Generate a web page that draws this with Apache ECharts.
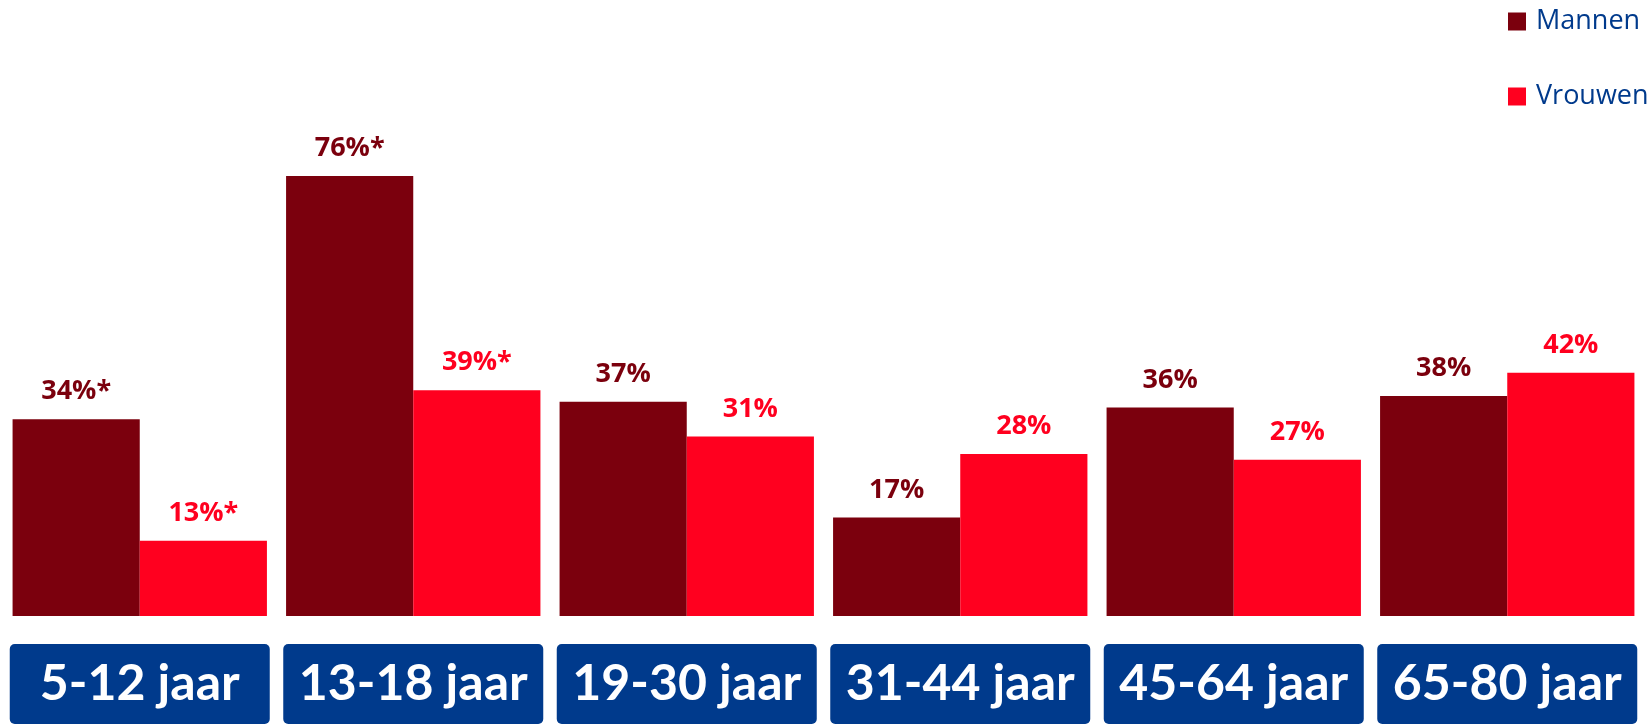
<!DOCTYPE html>
<html>
<head>
<meta charset="utf-8">
<script src="https://cdn.jsdelivr.net/npm/echarts@6/dist/echarts.min.js"></script>
<style>
  html, body { margin: 0; padding: 0; background: #fff; }
  #chart { width: 1650px; height: 726px; }
</style>
</head>
<body>
<div id="chart"></div>
<script>
// leeftijdsgroepen
var categories = ['5-12 jaar', '13-18 jaar', '19-30 jaar', '31-44 jaar', '45-64 jaar', '65-80 jaar'];
var mannen = [34, 76, 37, 17, 36, 38];
var vrouwen = [13, 39, 31, 28, 27, 42];
// labels boven de staven (* = significant)
var mannenLabels = ['34%*', '76%*', '37%', '17%', '36%', '38%'];
var vrouwenLabels = ['13%*', '39%*', '31%', '28%', '27%', '42%'];

var chart = echarts.init(document.getElementById('chart'));

function barLabel(labels, color) {
    return {
        show: true,
        position: 'top',
        distance: 14,
        color: color,
        fontFamily: 'Open Sans',
        fontWeight: 'bold',
        fontSize: 27,
        formatter: function (p) { return labels[p.dataIndex]; }
    };
}

var option = {
    animation: false,
    backgroundColor: '#fff',
    legend: {
        orient: 'vertical',
        left: 1503,
        top: 3,
        itemWidth: 18,
        itemHeight: 18,
        itemGap: 48,
        icon: 'rect',
        textStyle: {
            color: '#003a8c',
            fontFamily: 'Open Sans',
            fontSize: 27,
            padding: [0, 0, 0, 5]
        },
        data: ['Mannen', 'Vrouwen']
    },
    grid: { left: 3, right: 6, top: 37, bottom: 110 },
    xAxis: {
        type: 'category',
        data: categories,
        axisLine: { show: false },
        axisTick: { show: false },
        axisLabel: {
            interval: 0,
            margin: 28,
            color: '#fff',
            fontFamily: 'Lato',
            fontWeight: 'bold',
            fontSize: 50,
            backgroundColor: '#003a8c',
            borderRadius: 5,
            width: 260,
            height: 80,
            lineHeight: 80,
            align: 'center',
            verticalAlign: 'top'
        }
    },
    yAxis: {
        type: 'value',
        min: 0,
        max: 100,
        show: false
    },
    series: [
        {
            name: 'Mannen',
            type: 'bar',
            data: mannen,
            barGap: 0,
            barCategoryGap: '7%',
            itemStyle: { color: '#7b000d' },
            label: barLabel(mannenLabels, '#7b000d')
        },
        {
            name: 'Vrouwen',
            type: 'bar',
            data: vrouwen,
            itemStyle: { color: '#ff001f' },
            label: barLabel(vrouwenLabels, '#ff001f')
        }
    ]
};

chart.setOption(option);
</script>
</body>
</html>
